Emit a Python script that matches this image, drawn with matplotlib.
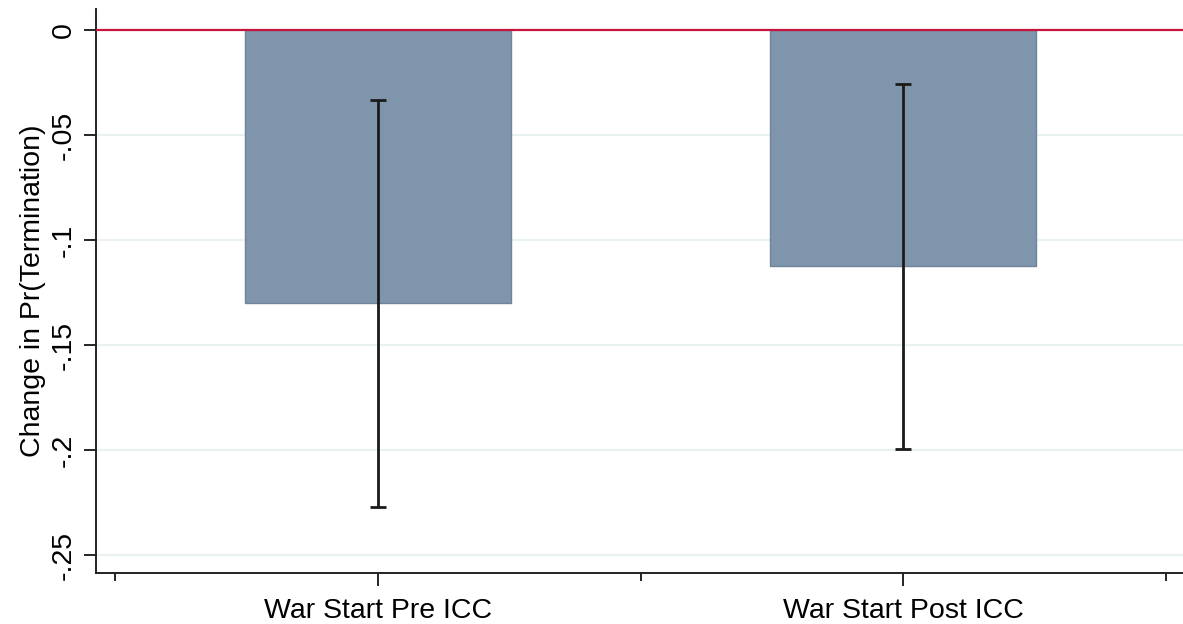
import matplotlib
matplotlib.use("Agg")
import matplotlib.pyplot as plt
import numpy as np

categories = ["War Start Pre ICC", "War Start Post ICC"]
effects = [-0.130, -0.1125]
ci_upper = [-0.0333, -0.0257]
ci_lower = [-0.227, -0.1995]
yticks = [0, -0.05, -0.1, -0.15, -0.2, -0.25]
ytick_labels = ["0", "-.05", "-.1", "-.15", "-.2", "-.25"]

plt.rcParams['font.family'] = ['Liberation Sans', 'DejaVu Sans']

fig = plt.figure(figsize=(11.83, 6.24), dpi=100)
ax = fig.add_axes([0.0811, 0.0817, 0.9189, 0.9039])

x = np.arange(1, len(categories) + 1)
eff = np.array(effects)
yerr = np.array([eff - np.array(ci_lower), np.array(ci_upper) - eff])

for y in yticks[1:]:
    ax.axhline(y, color="#e9f1f2", lw=1.5, zorder=0)

ax.bar(x, eff, width=0.505, color="#7f95ab", edgecolor="#6e849c", linewidth=1.0, zorder=2)
ax.axhline(0, color="#c8143c", lw=1.6, zorder=3)
ax.errorbar(x, eff, yerr=yerr, fmt="none", ecolor="#1a1a1a", elinewidth=2.0,
            capsize=6, capthick=2.0, zorder=4)

ax.set_xlim(0.463, 2.533)
ax.set_ylim(-0.2586, 0.0100)

ax.set_xticks(x)
ax.set_xticklabels(categories, fontsize=20.5)
ax.set_xticks([0.5, 1.5, 2.5], minor=True)
ax.tick_params(axis="x", which="major", length=9, width=1.2, pad=9)
ax.tick_params(axis="x", which="minor", length=6, width=1.2)

ax.set_yticks(yticks)
ax.set_yticklabels(ytick_labels, fontsize=20.5, rotation=90, va="center")
ax.tick_params(axis="y", length=9, width=1.2, pad=5)

ax.set_ylabel("Change in Pr(Termination)", fontsize=20.5, labelpad=3)

for side in ["top", "right"]:
    ax.spines[side].set_visible(False)
for side in ["left", "bottom"]:
    ax.spines[side].set_color("#222222")
    ax.spines[side].set_linewidth(1.4)

fig.savefig("out.png", dpi=100)
